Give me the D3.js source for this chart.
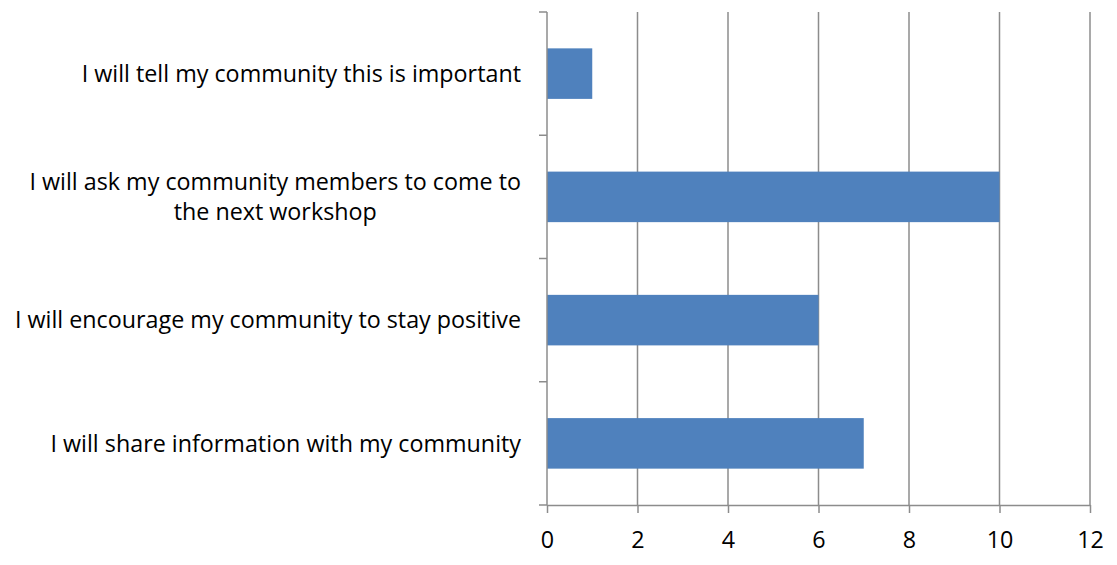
<!DOCTYPE html>
<html lang="en">
<head>
<meta charset="utf-8">
<title>Community actions</title>
<script src="https://d3js.org/d3.v7.min.js"></script>
<style>
  body { margin: 0; background: #fff; }
  text { font-family: "Open Sans", "Noto Sans", sans-serif; fill: #000; }
</style>
</head>
<body>
<div id="chart"></div>
<script>
// data, top to bottom
var categories = [
  "I will tell my community this is important",
  "I will ask my community members to come to|the next workshop",
  "I will encourage my community to stay positive",
  "I will share information with my community"
];
var counts = [1, 10, 6, 7];
var xTicks = [0, 2, 4, 6, 8, 10, 12];

var width = 1117, height = 565;
var plotLeft = 547, plotRight = 1090, plotTop = 12, plotBottom = 505;
var fontSize = 23.3;

var svg = d3.select("#chart").append("svg")
  .attr("width", width)
  .attr("height", height);

var x = d3.scaleLinear().domain([0, 12]).range([plotLeft, plotRight]);
var y = d3.scaleBand().domain(categories).range([plotTop, plotBottom])
  .paddingInner(0.59).paddingOuter(0.295);

var gridColor = "#8c8c8c";

// vertical gridlines
svg.append("g").selectAll("line")
  .data(xTicks.filter(function(d){ return d > 0; }))
  .enter().append("line")
  .attr("x1", function(d){ return x(d); })
  .attr("x2", function(d){ return x(d); })
  .attr("y1", plotTop)
  .attr("y2", plotBottom)
  .attr("stroke", gridColor)
  .attr("stroke-width", 1.5);

// bars
svg.append("g").selectAll("rect")
  .data(categories)
  .enter().append("rect")
  .attr("x", x(0))
  .attr("y", function(d){ return y(d); })
  .attr("width", function(d, i){ return x(counts[i]) - x(0); })
  .attr("height", y.bandwidth())
  .attr("fill", "#4f81bd");

// x axis
var xAxis = svg.append("g")
  .attr("transform", "translate(0," + plotBottom + ")")
  .call(d3.axisBottom(x).tickValues(xTicks).tickSize(8).tickPadding(18).tickSizeOuter(0));
xAxis.select(".domain").attr("stroke", gridColor).attr("stroke-width", 1.5);
xAxis.selectAll(".tick line").attr("stroke", gridColor).attr("stroke-width", 1.5);
xAxis.selectAll(".tick text").attr("font-size", fontSize).attr("fill", "#000")
  .style("font-family", '"Open Sans", "Noto Sans", sans-serif');

// y axis line with ticks at band boundaries
var bounds = d3.range(categories.length + 1).map(function(i){
  return plotTop + i * (plotBottom - plotTop) / categories.length;
});
svg.append("line")
  .attr("x1", plotLeft).attr("x2", plotLeft)
  .attr("y1", plotTop).attr("y2", plotBottom)
  .attr("stroke", gridColor).attr("stroke-width", 1.5);
svg.append("g").selectAll("line")
  .data(bounds)
  .enter().append("line")
  .attr("x1", plotLeft - 8).attr("x2", plotLeft)
  .attr("y1", function(d){ return d; })
  .attr("y2", function(d){ return d; })
  .attr("stroke", gridColor).attr("stroke-width", 1.5);

// category labels: right aligned block, lines centred inside it
var labelRight = 521, lineH = 30;
categories.forEach(function(c){
  var lines = c.split("|");
  var cy = y(c) + y.bandwidth() / 2;
  var g = svg.append("g");
  var texts = lines.map(function(l, j){
    return g.append("text")
      .attr("font-size", fontSize)
      .attr("y", cy + (j - (lines.length - 1) / 2) * lineH)
      .attr("dy", "0.35em")
      .text(l);
  });
  var widest = d3.max(texts, function(t){ return t.node().getComputedTextLength(); });
  var mid = labelRight - widest / 2;
  texts.forEach(function(t){ t.attr("text-anchor", "middle").attr("x", mid); });
});
</script>
</body>
</html>
